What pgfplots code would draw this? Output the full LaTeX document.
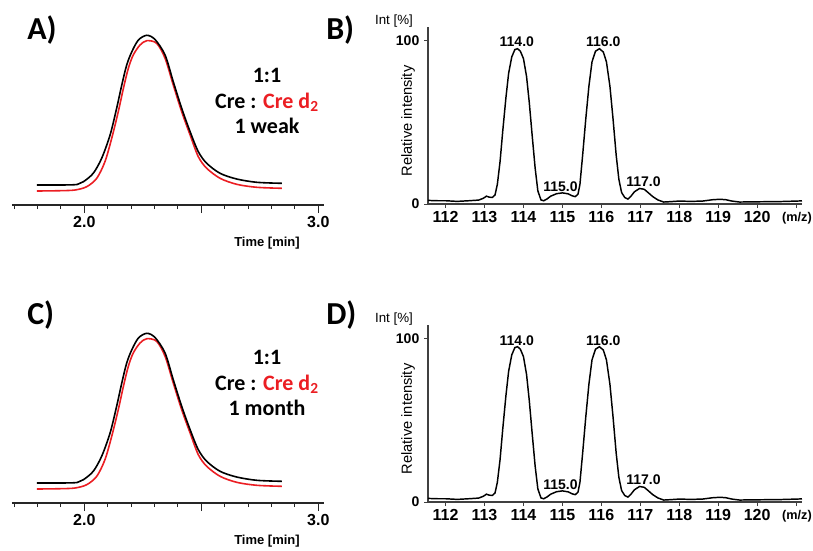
\documentclass[border=0pt]{standalone}
\usepackage{fontspec}
\setmainfont{Liberation Sans}
\newfontfamily\calib{Carlito}
\usepackage{pgfplots}
\usepackage{pgfplotstable}
\pgfplotsset{compat=1.18}
\definecolor{crered}{RGB}{235,30,35}

% chromatogram traces (time in min, height in px above the axis line)
\pgfplotstableread{
t y
1.797 20
1.896 20
1.969 20.5
1.996 23.3
2.038 31.7
2.074 46.7
2.110 70
2.138 96.7
2.160 120
2.181 140
2.203 153.3
2.231 165
2.267 169.7
2.302 165.5
2.345 150
2.380 123.3
2.416 96.7
2.452 73.3
2.487 53.3
2.523 41.7
2.580 31.7
2.651 26
2.737 22.7
2.844 21.7
}\tabblack
\pgfplotstableread{
t y
1.797 14
1.896 14.3
1.960 15
2.010 18.3
2.053 26.7
2.088 43.3
2.117 66.7
2.145 93.3
2.167 116.7
2.188 136.7
2.209 150
2.238 160
2.267 164.3
2.309 161.7
2.345 146.7
2.380 120
2.416 93.3
2.452 70
2.487 48.3
2.523 36.7
2.580 26.7
2.651 20.7
2.737 17.7
2.844 16.7
}\tabred

% mass spectrum (m/z, relative intensity %)
\pgfplotstableread{
mz int
111.55 2.2
111.8 2.0
112.0 2.0
112.3 1.6
112.6 2.0
112.85 2.4
112.97 3.5
113.05 4.8
113.12 4.2
113.2 4.0
113.27 5.5
113.33 12
113.4 26
113.47 45
113.55 65
113.62 80
113.7 90
113.78 94.5
113.85 95
113.92 93.5
114.0 89
114.08 78
114.15 62
114.22 43
114.3 22
114.37 8
114.45 2.5
114.52 2.0
114.6 3.0
114.7 4.8
114.85 6.3
115.0 6.8
115.15 6.2
115.25 5.0
115.33 4.5
115.4 6
115.45 12
115.52 30
115.6 52
115.68 72
115.76 87
115.85 93.5
115.95 95
116.05 93
116.13 87
116.22 72
116.3 52
116.38 30
116.45 15
116.52 7
116.6 4
116.68 3
116.75 4.5
116.85 7.5
116.98 9.5
117.1 9.0
117.2 7
117.32 4.5
117.45 2.5
117.6 1.2
117.75 1.4
118.0 1.8
118.3 1.6
118.6 1.8
118.85 2.6
119.05 2.9
119.2 2.6
119.35 1.8
119.55 1.2
119.8 1.3
120.2 1.4
120.6 1.5
121.15 1.9
}\spectrum

\pgfplotsset{
  chrom/.style={
    scale only axis, width=234.3pt, height=138.75pt,
    xmin=1.69, xmax=3.025, ymin=0, ymax=185,
    axis x line=bottom, axis y line=none,
    axis line style={-, line width=0.9pt, black!85},
    xtick={2,2.5,3}, xticklabels={2.0,,3.0},
    minor xtick={1.7,1.8,1.9,2.1,2.2,2.3,2.4,2.6,2.7,2.8,2.9},
    tick align=outside, major tick length=6pt, minor tick length=3pt,
    tick style={line width=0.8pt, black!85},
    xticklabel style={font=\bfseries\fontsize{12}{14}\selectfont, inner sep=2.5pt},
    clip=false,
  },
  spec/.style={
    scale only axis, width=280.5pt, height=132.4pt,
    xmin=111.55, xmax=121.15, ymin=0, ymax=108,
    axis x line=bottom, axis y line=left,
    axis line style={-, line width=0.8pt, black!75},
    xtick={112,...,121},
    xticklabels={112,113,114,115,116,117,118,119,120,{}},
    ytick={0,100}, yticklabels={0,100},
    tick align=outside, major tick length=3pt,
    tick style={line width=0.7pt, black!75},
    xticklabel style={font=\bfseries\fontsize{12}{14}\selectfont, inner sep=2.5pt},
    yticklabel style={font=\bfseries\fontsize{10.5}{12}\selectfont},
    clip=false,
  },
}
\tikzset{peak/.style={font=\bfseries\fontsize{10.5}{12}\selectfont, inner sep=0pt}}

\begin{document}
\begin{tikzpicture}
\path[use as bounding box] (0,0) rectangle (609.75pt,-412.5pt);

% A
\begin{axis}[chrom, at={(8.85pt,-153.75pt)}, anchor=south west]
\addplot[crered, line width=1.2pt, smooth] table[x=t, y=y] {\tabred};
\addplot[black, line width=1.2pt, smooth] table[x=t, y=y] {\tabblack};
\end{axis}

% C
\begin{axis}[chrom, at={(8.85pt,-377.25pt)}, anchor=south west]
\addplot[crered, line width=1.2pt, smooth] table[x=t, y=y] {\tabred};
\addplot[black, line width=1.2pt, smooth] table[x=t, y=y] {\tabblack};
\end{axis}

% B
\begin{axis}[spec, at={(321pt,-153pt)}, anchor=south west]
\addplot[black, line width=1.1pt] table[x=mz, y=int] {\spectrum};
\node[peak] at (axis cs:113.83,99) {114.0};
\node[peak] at (axis cs:116.05,99) {116.0};
\node[peak] at (axis cs:114.95,10.6) {115.0};
\node[peak] at (axis cs:117.08,13.7) {117.0};
\end{axis}

% D
\begin{axis}[spec, at={(321pt,-376.5pt)}, anchor=south west]
\addplot[black, line width=1.1pt] table[x=mz, y=int] {\spectrum};
\node[peak] at (axis cs:113.83,99) {114.0};
\node[peak] at (axis cs:116.05,99) {116.0};
\node[peak] at (axis cs:114.95,10.6) {115.0};
\node[peak] at (axis cs:117.08,13.7) {117.0};
\end{axis}

\begin{scope}[x=0.75pt, y=-0.75pt]
  \tikzset{pl/.style={font=\calib\bfseries\fontsize{24}{28}\selectfont, anchor=base west, inner sep=0pt},
           ann/.style={font=\calib\bfseries\fontsize{16.5}{19}\selectfont, anchor=base, inner sep=0pt}}
  \node[pl] at (27,39) {A)};
  \node[pl] at (326,39) {B)};
  \node[pl] at (27,324) {C)};
  \node[pl] at (326,324) {D)};

  \node[ann] at (267,82.5) {1:1};
  \node[ann] at (267,108.5) {Cre : \textcolor{crered}{Cre d\textsubscript{2}}};
  \node[ann] at (267,133.5) {1 weak};
  \node[ann] at (267,364.5) {1:1};
  \node[ann] at (267,390.5) {Cre : \textcolor{crered}{Cre d\textsubscript{2}}};
  \node[ann] at (267,415.5) {1 month};

  \node[font=\bfseries\fontsize{9.75}{11}\selectfont] at (267,243) {Time [min]};
  \node[font=\bfseries\fontsize{9.75}{11}\selectfont] at (267,541) {Time [min]};

  \node[font=\fontsize{10}{12}\selectfont] at (394,21) {Int [\%]};
  \node[font=\fontsize{10}{12}\selectfont] at (394,319) {Int [\%]};
  \node[font=\fontsize{11}{13}\selectfont, rotate=90] at (408,121) {Relative intensity};
  \node[font=\fontsize{11}{13}\selectfont, rotate=90] at (408,419) {Relative intensity};
  \node[font=\bfseries\fontsize{9.5}{11}\selectfont] at (797,218) {(m/z)};
  \node[font=\bfseries\fontsize{9.5}{11}\selectfont] at (797,516) {(m/z)};
\end{scope}
\end{tikzpicture}
\end{document}
